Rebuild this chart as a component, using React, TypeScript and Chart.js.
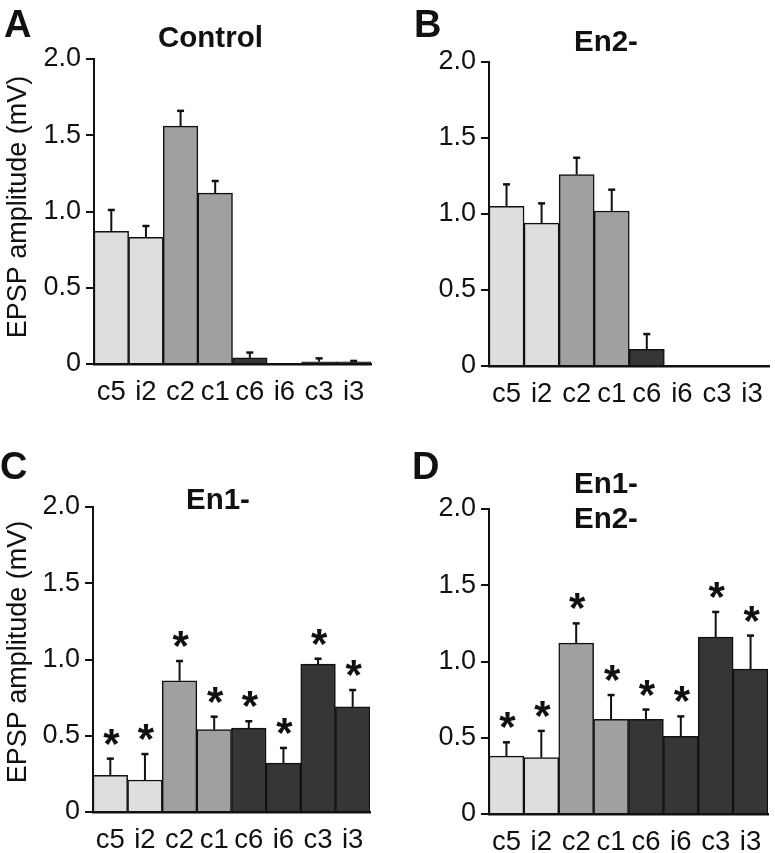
import React, { useEffect, useRef } from "react";
import { Chart, registerables } from "chart.js";

Chart.register(...registerables);

// ---------- data ----------
const categories = ["c5", "i2", "c2", "c1", "c6", "i6", "c3", "i3"];
const yTicks = [0, 0.5, 1.0, 1.5, 2.0];
const yAxisTitle = "EPSP amplitude (mV)";

const controlMean = [0.87, 0.83, 1.56, 1.12, 0.04, 0, 0.015, 0.015];
const controlErr = [0.14, 0.075, 0.1, 0.08, 0.035, 0, 0.022, 0.005];
const controlStars = [false, false, false, false, false, false, false, false];

const en2Mean = [1.05, 0.94, 1.26, 1.02, 0.11, 0, 0, 0];
const en2Err = [0.145, 0.13, 0.11, 0.14, 0.1, 0, 0, 0];
const en2Stars = [false, false, false, false, false, false, false, false];

const en1Mean = [0.24, 0.21, 0.86, 0.54, 0.55, 0.32, 0.97, 0.69];
const en1Err = [0.11, 0.17, 0.13, 0.085, 0.045, 0.1, 0.035, 0.11];
const en1Stars = [true, true, true, true, true, true, true, true];

const en12Mean = [0.38, 0.37, 1.12, 0.62, 0.62, 0.51, 1.16, 0.95];
const en12Err = [0.09, 0.175, 0.13, 0.16, 0.065, 0.13, 0.165, 0.22];
const en12Stars = [true, true, true, true, true, true, true, true];

// ---------- styles ----------
const FONT = "'Liberation Sans', Arial, Helvetica, sans-serif";
const LIGHT = "#dedede";
const MID = "#a0a0a0";
const DARK = "#363636";
const barColors = [LIGHT, LIGHT, MID, MID, DARK, DARK, DARK, DARK];

type PanelCfg = {
  letter: string;
  titleLines: string[];
  mean: number[];
  err: number[];
  stars: boolean[];
  yTitlePos: [number, number] | null;
  left: number;
  top: number;
  w: number;
  h: number;
  yWidth: number;
  padTop: number;
  padRight: number;
  xHeight: number;
  letterPos: [number, number];
  titlePos: [number, number][];
};

const panels: PanelCfg[] = [
  {
    letter: "A",
    titleLines: ["Control"],
    mean: controlMean,
    err: controlErr,
    stars: controlStars,
    yTitlePos: [19, 207],
    left: 0,
    top: 0,
    w: 385,
    h: 410,
    yWidth: 94,
    padTop: 59,
    padRight: 14,
    xHeight: 46,
    letterPos: [4, 5],
    titlePos: [[158, 22]],
  },
  {
    letter: "B",
    titleLines: ["En2-"],
    mean: en2Mean,
    err: en2Err,
    stars: en2Stars,
    yTitlePos: null,
    left: 390,
    top: 0,
    w: 385,
    h: 410,
    yWidth: 99,
    padTop: 62,
    padRight: 5,
    xHeight: 44,
    letterPos: [414, 5],
    titlePos: [[574, 26]],
  },
  {
    letter: "C",
    titleLines: ["En1-"],
    mean: en1Mean,
    err: en1Err,
    stars: en1Stars,
    yTitlePos: [18.5, 232],
    left: 0,
    top: 420,
    w: 385,
    h: 433,
    yWidth: 93,
    padTop: 87,
    padRight: 15,
    xHeight: 41,
    letterPos: [0, 447],
    titlePos: [[186, 484]],
  },
  {
    letter: "D",
    titleLines: ["En1-", "En2-"],
    mean: en12Mean,
    err: en12Err,
    stars: en12Stars,
    yTitlePos: null,
    left: 390,
    top: 420,
    w: 385,
    h: 433,
    yWidth: 99,
    padTop: 89,
    padRight: 7,
    xHeight: 39,
    letterPos: [412, 447],
    titlePos: [
      [574, 468],
      [574, 503],
    ],
  },
];

const errorStarPlugin = {
  id: "errorStars",
  afterDatasetsDraw(chart: any, _args: any, opts: any) {
    const { ctx } = chart;
    const yScale = chart.scales.y;
    const meta = chart.getDatasetMeta(0);
    const vals: number[] = chart.data.datasets[0].data;
    const errs: number[] = opts.errors || [];
    const stars: boolean[] = opts.stars || [];
    ctx.save();
    ctx.strokeStyle = "#111";
    ctx.fillStyle = "#111";
    meta.data.forEach((bar: any, i: number) => {
      const v = vals[i];
      const e = errs[i] || 0;
      const cx = bar.x;
      const yBase = yScale.getPixelForValue(v);
      const yTop = yScale.getPixelForValue(v + e);
      if (e > 0) {
        ctx.lineWidth = 2;
        ctx.beginPath();
        ctx.moveTo(cx, yBase);
        ctx.lineTo(cx, yTop);
        ctx.stroke();
        ctx.lineWidth = 2.5;
        ctx.beginPath();
        ctx.moveTo(cx - 3.5, yTop);
        ctx.lineTo(cx + 3.5, yTop);
        ctx.stroke();
      }
      if (stars[i]) {
        ctx.font = `bold 42px ${FONT}`;
        ctx.textAlign = "center";
        ctx.textBaseline = "alphabetic";
        const m = ctx.measureText("*");
        const asc = m.actualBoundingBoxAscent;
        const desc = m.actualBoundingBoxDescent;
        const centerY = yTop - 22;
        const baseline = centerY + (asc - desc) / 2;
        ctx.fillText("*", cx + 1, baseline);
      }
    });
    if (opts.yTitlePos) {
      const [tx, ty] = opts.yTitlePos;
      ctx.translate(tx, ty);
      ctx.rotate(-Math.PI / 2);
      ctx.font = `27px ${FONT}`;
      ctx.textAlign = "center";
      ctx.textBaseline = "middle";
      ctx.fillText(yAxisTitle, 0, 0);
    }
    ctx.restore();
  },
};

function Panel({ cfg }: { cfg: PanelCfg }) {
  const ref = useRef<HTMLCanvasElement | null>(null);
  useEffect(() => {
    if (!ref.current) return;
    const chart = new Chart(ref.current, {
      type: "bar",
      data: {
        labels: categories,
        datasets: [
          {
            data: cfg.mean,
            backgroundColor: barColors,
            borderColor: "#111",
            borderWidth: 1.5,
            barPercentage: 1,
            categoryPercentage: 1,
          },
        ],
      },
      options: {
        animation: false,
        responsive: false,
        maintainAspectRatio: false,
        devicePixelRatio: 1,
        layout: {
          padding: { left: 0, top: cfg.padTop, right: cfg.padRight, bottom: 0 },
        },
        plugins: {
          legend: { display: false },
          tooltip: { enabled: false },
          title: { display: false },
          errorStars: { errors: cfg.err, stars: cfg.stars, yTitlePos: cfg.yTitlePos },
        } as any,
        scales: {
          x: {
            grid: { display: false, drawTicks: false },
            border: { display: true, color: "#111", width: 2.5 },
            ticks: {
              color: "#111",
              font: { family: FONT, size: 27.5 },
              padding: 12,
              autoSkip: false,
              maxRotation: 0,
              minRotation: 0,
            },
            afterFit: (s: any) => {
              s.height = cfg.xHeight;
            },
          },
          y: {
            min: 0,
            max: 2,
            afterBuildTicks: (s: any) => {
              s.ticks = yTicks.map((v) => ({ value: v }));
            },
            ticks: {
              color: "#111",
              font: { family: FONT, size: 27 },
              padding: 5,
              callback: (v: any) => (Number(v) === 0 ? "0" : Number(v).toFixed(1)),
            },
            grid: {
              display: true,
              drawOnChartArea: false,
              drawTicks: true,
              tickLength: 8,
              color: "#111",
              lineWidth: 2,
            },
            border: { display: true, color: "#111", width: 2 },
            title: { display: false },
            afterFit: (s: any) => {
              s.width = cfg.yWidth;
            },
          },
        },
      } as any,
      plugins: [errorStarPlugin],
    });
    return () => chart.destroy();
  }, [cfg]);

  return (
    <canvas
      ref={ref}
      width={cfg.w}
      height={cfg.h}
      style={{
        position: "absolute",
        left: cfg.left,
        top: cfg.top,
        width: cfg.w,
        height: cfg.h,
      }}
    />
  );
}

export default function App() {
  return (
    <div
      style={{
        position: "absolute",
        left: 0,
        top: 0,
        width: 775,
        height: 853,
        background: "#fff",
        overflow: "hidden",
        fontFamily: FONT,
        color: "#111",
      }}
    >
      {panels.map((p) => (
        <Panel key={p.letter} cfg={p} />
      ))}
      {panels.map((p) => (
        <div
          key={"L" + p.letter}
          style={{
            position: "absolute",
            left: p.letterPos[0],
            top: p.letterPos[1],
            fontSize: 38,
            fontWeight: "bold",
            lineHeight: "38px",
            whiteSpace: "nowrap",
          }}
        >
          {p.letter}
        </div>
      ))}
      {panels.map((p) =>
        p.titleLines.map((t, i) => (
          <div
            key={"T" + p.letter + i}
            style={{
              position: "absolute",
              left: p.titlePos[i][0],
              top: p.titlePos[i][1],
              fontSize: 29.5,
              fontWeight: "bold",
              lineHeight: "29.5px",
              whiteSpace: "nowrap",
            }}
          >
            {t}
          </div>
        ))
      )}
    </div>
  );
}
